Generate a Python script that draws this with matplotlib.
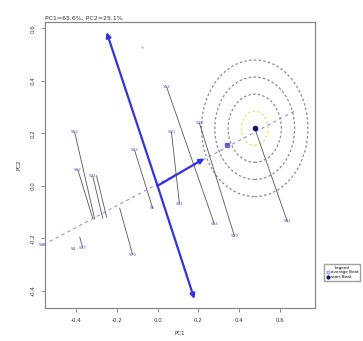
"""Biplot-style projection chart: PC1 vs PC2 with loading arrows and sample segments."""

import matplotlib
matplotlib.use("Agg")
import matplotlib.pyplot as plt
from matplotlib.lines import Line2D
from matplotlib.patches import Circle

# axis ticks
x_ticks = [-0.4, -0.2, 0.0, 0.2, 0.4, 0.6]
y_ticks = [-0.4, -0.2, 0.0, 0.2, 0.4, 0.6]

# loading arrows from origin (end points)
arrow_x = [-0.249, 0.180, 0.229]
arrow_y = [0.585, -0.431, 0.104]

# dashed projection axis
axis_x = [-0.527, 0.678]
axis_y = [-0.212, 0.288]

# sample segments: start -> end, with labels at each end
seg_x0 = [-0.405, -0.390, -0.317, -0.298, -0.112, -0.185, -0.380, 0.044, 0.068, 0.205, 0.475]
seg_y0 = [0.204, 0.062, 0.038, 0.038, 0.135, -0.085, -0.196, 0.377, 0.204, 0.238, 0.219]
seg_x1 = [-0.307, -0.317, -0.268, -0.249, -0.024, -0.122, -0.366, 0.278, 0.107, 0.376, 0.634]
seg_y1 = [-0.127, -0.123, -0.123, -0.119, -0.085, -0.262, -0.235, -0.146, -0.069, -0.192, -0.135]
top_labels = ["S62", "S67", "S21", "", "S65", "", "", "S12", "S30", "S28", ""]
bottom_labels = ["", "", "", "", "S5", "S70", "S37", "S13", "S31", "S29", "S41"]

# extra labelled points on the dashed axis
pt_x = [-0.560, -0.410, 0.340]
pt_y = [-0.225, -0.240, 0.154]
pt_labels = ["S48", "S4", "S3"]

# target circles
center_x, center_y = 0.475, 0.219
radii = [0.065, 0.13, 0.195, 0.26]

legend_labels = ["average Beat", "start Beat"]

fig = plt.figure(figsize=(3.63, 3.41), dpi=100)
ax = fig.add_axes([0.124, 0.097, 0.744, 0.838])

for i, r in enumerate(radii):
    col = "#e8e070" if i == 0 else "#8a8a8a"
    ax.add_patch(Circle((center_x, center_y), r, fill=False, ls=(0, (2, 1.8)),
                        lw=0.9, ec=col))

ax.plot(axis_x, axis_y, color="#9090f0", lw=0.8, ls=(0, (3, 3)))

for i in range(len(seg_x0)):
    ax.plot([seg_x0[i], seg_x1[i]], [seg_y0[i], seg_y1[i]], color="#555555", lw=0.6)
    if top_labels[i]:
        ax.text(seg_x0[i], seg_y0[i], top_labels[i], fontsize=3, color="#5050cc",
                ha="center", va="center")
    if bottom_labels[i]:
        ax.text(seg_x1[i], seg_y1[i], bottom_labels[i], fontsize=3, color="#5050cc",
                ha="center", va="center")

for x, y, lab in zip(pt_x, pt_y, pt_labels):
    ax.text(x, y, lab, fontsize=3, color="#3030dd", ha="center", va="center")
ax.plot([pt_x[2]], [pt_y[2]], marker="s", ms=2.5, color="#7070cc", ls="none")
ax.plot([-0.078], [0.527], marker=".", ms=1.5, color="#bbbbbb", ls="none")

for x, y in zip(arrow_x, arrow_y):
    ax.annotate("", xy=(x, y), xytext=(0, 0),
                arrowprops=dict(arrowstyle="-|>", color="#3333dd", lw=1.6,
                                mutation_scale=7, shrinkA=0, shrinkB=0))

ax.plot([center_x], [center_y], marker="o", ms=3, color="#10106e", ls="none")

ax.set_xlim(-0.55, 0.77)
ax.set_ylim(-0.465, 0.623)
ax.set_xticks(x_ticks)
ax.set_xticklabels([f"{v:.1f}" for v in x_ticks])
ax.set_yticks(y_ticks)
ax.set_yticklabels([f"{v:.1f}" for v in y_ticks], rotation=90, va="center")
ax.tick_params(labelsize=4, length=3, width=0.6, color="#777777", pad=4,
               labelcolor="#333333")
for sp in ax.spines.values():
    sp.set_color("#888888")
    sp.set_linewidth(0.9)

ax.set_xlabel("PC1", fontsize=4, color="#333333", labelpad=6)
ax.set_ylabel("PC2", fontsize=4, color="#333333", labelpad=6)
ax.set_title("PC1=65.6%, PC2=25.1%", fontsize=4.5, loc="left", pad=2, color="#333333")

handles = [
    Line2D([], [], marker="o", ls="none", ms=2, mfc="none", mec="#a0a0ff"),
    Line2D([], [], marker="o", ls="none", ms=2, color="#10106e"),
]
fig.legend(handles, legend_labels, title="Legend", loc="upper left",
           bbox_to_anchor=(0.887, 0.232), fontsize=3, title_fontsize=3,
           frameon=True, fancybox=False, edgecolor="#888888",
           handletextpad=0.3, borderpad=0.4, labelspacing=0.2, handlelength=1)

fig.savefig("out.png", dpi=100)
